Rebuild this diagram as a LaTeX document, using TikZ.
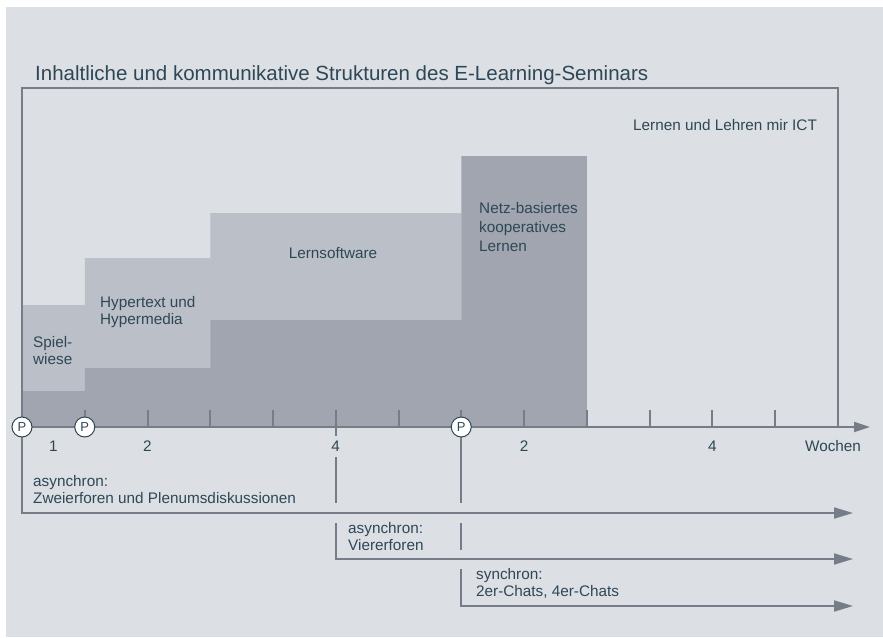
\documentclass[tikz,border=0pt]{standalone}
\usepackage{fontspec}
\setmainfont{Liberation Sans}
\usetikzlibrary{arrows.meta}

\definecolor{bgc}{RGB}{220,223,227}
\definecolor{stepl}{RGB}{187,191,199}
\definecolor{stepd}{RGB}{160,165,175}
\definecolor{linec}{RGB}{118,125,137}
\definecolor{textc}{RGB}{46,71,86}

\begin{document}
\begin{tikzpicture}[x=1pt,y=-1pt,
    lbl/.style={inner sep=0pt,text=textc,align=left,anchor=base west,
      font=\fontsize{15.3}{17.5}\selectfont},
    num/.style={lbl,anchor=base},
    pmark/.style={circle,draw=textc,line width=1pt,fill=white,minimum size=20pt,
      inner sep=0pt,text=textc,font=\fontsize{13}{14}\selectfont},
    gline/.style={draw=linec,line width=2pt},
    tarrow/.style={gline,-{Triangle[length=19pt,width=11pt]}}]
  \useasboundingbox (0,0) rectangle (883,637);
  \fill[bgc] (6,7) rectangle (883,637);

  % Stufen
  \fill[stepl] (22,427) -- (22,305) -- (84.75,305) -- (84.75,258) -- (210.25,258)
    -- (210.25,213) -- (461.25,213) -- (461.25,427) -- cycle;
  \fill[stepd] (22,427) -- (22,391) -- (84.75,391) -- (84.75,368) -- (210.25,368)
    -- (210.25,320) -- (461.25,320) -- (461.25,156) -- (586.75,156) -- (586.75,427) -- cycle;

  % Rahmen und Zeitachse
  \draw[gline] (22,427) -- (22,88) -- (838,88) -- (838,427);
  \draw[gline,-{Triangle[length=16pt,width=10pt]}] (22,427) -- (870,427);
  \foreach \k in {1,...,12}
    \draw[gline] ({22+62.75*\k},410) -- ({22+62.75*\k},427);
  \draw[gline] (335.75,427) -- (335.75,436);

  % Kommunikation
  \coordinate (e1) at (853,513);
  \coordinate (e2) at (853,559);
  \coordinate (e3) at (853,606);
  \draw[tarrow] (22,427) -- (22,513) -- (e1);
  \draw[gline] (335.75,457) -- (335.75,503);
  \draw[tarrow] (335.75,523) -- (335.75,559) -- (e2);
  \draw[gline] (461.25,427) -- (461.25,503);
  \draw[gline] (461.25,523) -- (461.25,550);
  \draw[tarrow] (461.25,569) -- (461.25,606) -- (e3);

  \node[pmark] (p1) at (22,427) {P};
  \node[pmark] (p2) at (84.75,427) {P};
  \node[pmark] (p3) at (461.25,427) {P};

  % Texte (Anker = Grundlinie der letzten Zeile)
  \node[lbl,font=\fontsize{20.5}{24}\selectfont] (titel) at (35,80)
    {Inhaltliche und kommunikative Strukturen des E-Learning-Seminars};
  \node[lbl] (ict) at (633,130) {Lernen und Lehren mir ICT};
  \node[lbl] (spiel) at (33,364.5) {Spiel-\\wiese};
  \node[lbl] (hyper) at (100,324.5) {Hypertext und\\Hypermedia};
  \node[num] (lsw) at (333,258) {Lernsoftware};
  \node[lbl,font=\fontsize{15.3}{19}\selectfont] (netz) at (479,251)
    {Netz-basiertes\\kooperatives\\Lernen};

  \node[num] (w1) at (53.5,451) {1};
  \node[num] (w2) at (147.5,451) {2};
  \node[num] (w4) at (335.75,451) {4};
  \node[num] (w2b) at (524,451) {2};
  \node[num] (w4b) at (712.25,451) {4};
  \node[num] (woch) at (833,451) {Wochen};

  \node[lbl] (as1) at (33,503.5) {asynchron:\\Zweierforen und Plenumsdiskussionen};
  \node[lbl] (as2) at (348,550.5) {asynchron:\\Viererforen};
  \node[lbl] (syn) at (476,596.5) {synchron:\\2er-Chats, 4er-Chats};
\end{tikzpicture}
\end{document}
